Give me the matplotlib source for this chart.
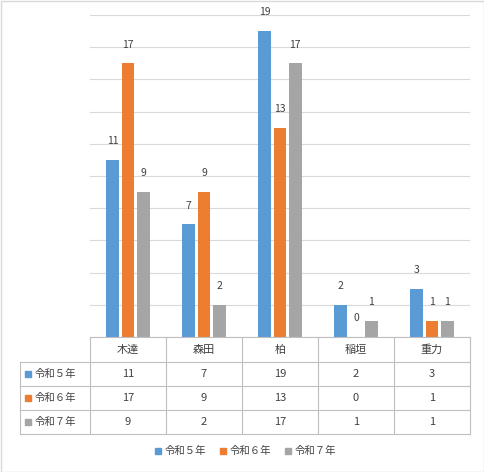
import matplotlib
matplotlib.use("Agg")
import matplotlib.pyplot as plt
from matplotlib.lines import Line2D
from matplotlib.patches import Rectangle

plt.rcParams['font.family'] = ['Noto Sans CJK JP', 'DejaVu Sans']

categories = ["木達", "森田", "柏", "稲垣", "重力"]
series = ["令和５年", "令和６年", "令和７年"]
values = [[11, 7, 19, 2, 3], [17, 9, 13, 0, 1], [9, 2, 17, 1, 1]]
colors = ["#5B9BD5", "#ED7D31", "#A5A5A5"]

W, H = 485, 472
fig = plt.figure(figsize=(W/100, H/100), dpi=100)
fig.patches.append(Rectangle((0.5/W, 0.5/H), 1-1/W, 1-1/H, transform=fig.transFigure,
                             fill=False, ec="#D9D9D9", lw=1))
L, R, T, B = 90, 470, 15, 337
ax = fig.add_axes([L/W, 1-B/H, (R-L)/W, (B-T)/H])
ax.set_xlim(-0.5, 4.5)
ax.set_ylim(0, 20)
for y in range(0, 21, 2):
    ax.axhline(y, color="#D9D9D9", lw=0.8, zorder=0)
bw = 0.17
for i, (s, vals, c) in enumerate(zip(series, values, colors)):
    for j, v in enumerate(vals):
        x = j + (i - 1) * (bw + 0.03)
        ax.bar(x, v, width=bw, color=c, zorder=2)
        ax.text(x, v + 0.85, str(v), ha="center", va="bottom", fontsize=7.5, color="#404040")
ax.set_xticks([]); ax.set_yticks([])
for sp in ax.spines.values():
    sp.set_visible(False)

# data table
gc = "#BFBFBF"
rows = [337, 362, 386, 410, 434]
def fx(x): return x / W
def fy(y): return 1 - y / H
for y in rows:
    x0 = L if y == rows[0] else 20
    fig.add_artist(Line2D([fx(x0), fx(R)], [fy(y), fy(y)], color=gc, lw=0.8))
colw = (R - L) / 5
for k in range(6):
    x = L + k * colw
    fig.add_artist(Line2D([fx(x), fx(x)], [fy(rows[0]), fy(rows[-1])], color=gc, lw=0.8))
fig.add_artist(Line2D([fx(20), fx(20)], [fy(rows[1]), fy(rows[-1])], color=gc, lw=0.8))
for j, cat in enumerate(categories):
    fig.text(fx(L + (j + 0.5) * colw), fy((rows[0] + rows[1]) / 2), cat,
             ha="center", va="center", fontsize=8, color="#404040")
for i, (s, vals, c) in enumerate(zip(series, values, colors)):
    yc = (rows[i + 1] + rows[i + 2]) / 2
    fig.add_artist(Rectangle((fx(25), fy(yc + 3)), 6/W, 6/H, transform=fig.transFigure, color=c))
    fig.text(fx(35), fy(yc), s, ha="left", va="center", fontsize=7.5, color="#404040")
    for j, v in enumerate(vals):
        fig.text(fx(L + (j + 0.5) * colw), fy(yc), str(v), ha="center", va="center",
                 fontsize=8, color="#404040")

# legend
lx = [155, 220, 285]
for x, s, c in zip(lx, series, colors):
    fig.add_artist(Rectangle((fx(x), fy(454)), 6/W, 6/H, transform=fig.transFigure, color=c))
    fig.text(fx(x + 10), fy(451), s, ha="left", va="center", fontsize=7.5, color="#404040")

fig.savefig("out.png", dpi=100)
